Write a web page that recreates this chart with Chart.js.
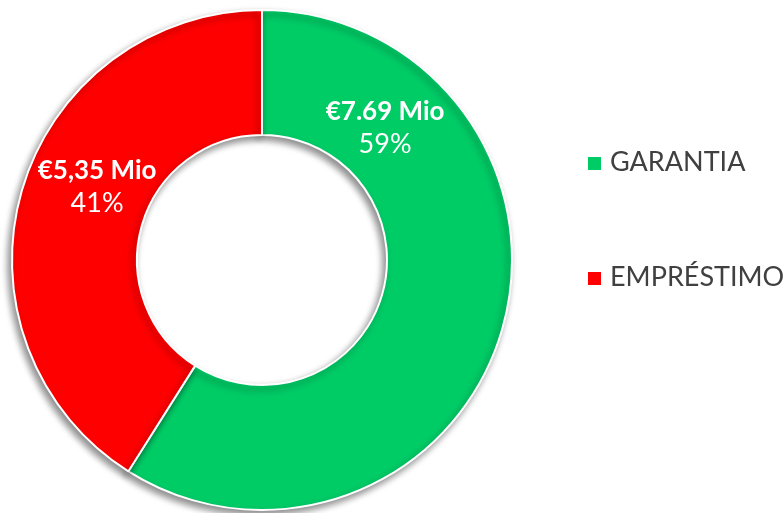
<!DOCTYPE html>
<html>
<head>
<meta charset="utf-8">
<script src="https://cdn.jsdelivr.net/npm/chart.js@4"></script>
<style>
  html, body { margin: 0; padding: 0; background: #fff; }
  #wrap { width: 783px; height: 513px; }
</style>
</head>
<body>
<div id="wrap"><canvas id="chart" width="783" height="513"></canvas></div>
<script>
// --- data ---
const categories = ['GARANTIA', 'EMPRÉSTIMO'];
const valuesMio = [7.69, 5.35];
const valueTexts = ['€7.69 Mio', '€5,35 Mio'];
const sliceColors = ['#00CC66', '#FF0000'];

// where each slice label sits (degrees clockwise from top)
const labelAngles = [43, 294];
const FONT = 'Lato, "DejaVu Sans", sans-serif';

// soft shadow under the ring
const ringShadow = {
    id: 'ringShadow',
    beforeDatasetsDraw(chart) {
        const ctx = chart.ctx;
        ctx.save();
        ctx.shadowColor = 'rgba(0,0,0,0.45)';
        ctx.shadowBlur = 7;
        ctx.shadowOffsetX = -3;
        ctx.shadowOffsetY = 4;
    },
    afterDatasetsDraw(chart) {
        chart.ctx.restore();
    }
};

// value + percent text inside each slice
const sliceLabels = {
    id: 'sliceLabels',
    afterDatasetsDraw(chart) {
        const ctx = chart.ctx;
        const meta = chart.getDatasetMeta(0);
        const total = valuesMio.reduce((a, b) => a + b, 0);
        meta.data.forEach((arc, i) => {
            const { x, y, innerRadius, outerRadius } = arc.getProps(['x', 'y', 'innerRadius', 'outerRadius'], true);
            const r = (innerRadius + outerRadius) / 2 - 7;
            const a = labelAngles[i] * Math.PI / 180;
            const cx = x + r * Math.sin(a);
            const cy = y - r * Math.cos(a);
            ctx.save();
            ctx.fillStyle = '#fff';
            ctx.textAlign = 'center';
            ctx.textBaseline = 'alphabetic';
            ctx.font = 'bold 26px ' + FONT;
            ctx.fillText(valueTexts[i], cx, cy - 8);
            ctx.font = '27px ' + FONT;
            ctx.fillText(Math.round(valuesMio[i] / total * 100) + '%', cx, cy + 25);
            ctx.restore();
        });
    }
};

// legend on the right, spaced like the original
const sideLegend = {
    id: 'sideLegend',
    afterDraw(chart) {
        const ctx = chart.ctx;
        const ds = chart.data.datasets[0];
        ctx.save();
        chart.data.labels.forEach((label, i) => {
            const top = 157 + i * 115;
            ctx.fillStyle = ds.backgroundColor[i];
            ctx.fillRect(588, top, 13, 13);
            ctx.fillStyle = '#404040';
            ctx.font = '27px ' + FONT;
            ctx.textBaseline = 'alphabetic';
            ctx.textAlign = 'left';
            ctx.fillText(label, 610, top + 14);
        });
        ctx.restore();
    }
};

const chart = new Chart(document.getElementById('chart'), {
    type: 'doughnut',
    data: {
        labels: categories,
        datasets: [{
            data: valuesMio,
            backgroundColor: sliceColors,
            borderColor: '#fff',
            borderWidth: 2,
            hoverOffset: 0
        }]
    },
    options: {
        responsive: false,
        animation: false,
        cutout: '50%',
        layout: { padding: { left: 0, right: 259, top: 9, bottom: 2 } },
        plugins: {
            legend: { display: false },
            tooltip: { enabled: false }
        }
    },
    plugins: [ringShadow, sliceLabels, sideLegend]
});
</script>
</body>
</html>
